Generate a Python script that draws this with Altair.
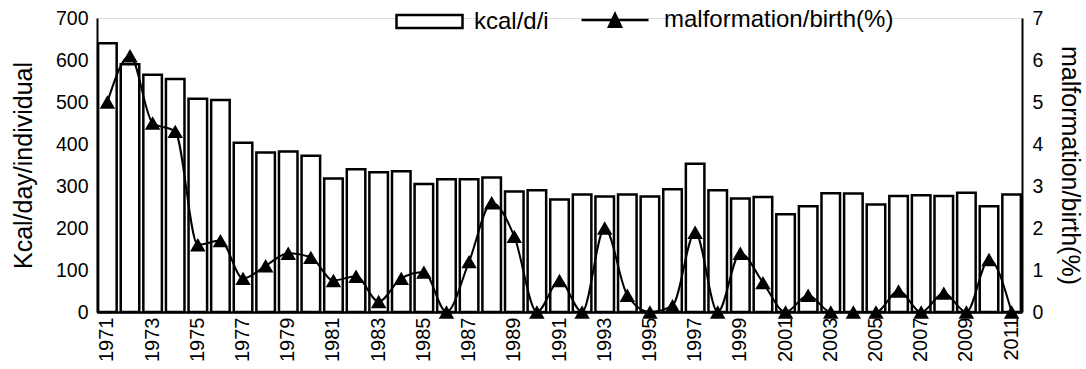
import altair as alt
import pandas as pd

years = list(range(1971, 2012))
kcal = [640, 590, 565, 555, 508, 505, 403, 380, 382, 372,
        318, 340, 333, 335, 305, 316, 316, 320, 287, 290,
        268, 280, 275, 280, 275, 292, 353, 290, 270, 274,
        233, 252, 283, 282, 256, 276, 278, 276, 284, 252, 280]
malf = [5.0, 6.1, 4.5, 4.3, 1.6, 1.7, 0.8, 1.1, 1.4, 1.3,
        0.75, 0.85, 0.25, 0.8, 0.95, 0.0, 1.2, 2.6, 1.8, 0.0,
        0.75, 0.0, 2.0, 0.4, 0.0, 0.15, 1.9, 0.0, 1.4, 0.7,
        0.0, 0.4, 0.0, 0.0, 0.0, 0.5, 0.0, 0.45, 0.0, 1.25, 0.0]
odd_years = [y for y in years if y % 2 == 1]

df = pd.DataFrame({"year": years, "kcal": kcal, "malf": malf})
df["s1"] = "kcal/d/i"
df["s2"] = "malformation/birth(%)"

FONT = "Liberation Sans"

x_enc = alt.X(
    "year:O",
    scale=alt.Scale(paddingInner=0.18, paddingOuter=0.05),
    axis=alt.Axis(
        values=odd_years, title=None, labelAngle=270, labelFontSize=20,
        labelFont=FONT, labelColor="black", ticks=False, labelPadding=5,
        domainColor="black", domainWidth=2.5, grid=False,
    ),
)

bars = alt.Chart(df).mark_bar(stroke="black", strokeWidth=2.5).encode(
    x=x_enc,
    y=alt.Y(
        "kcal:Q",
        scale=alt.Scale(domain=[0, 700], nice=False),
        axis=alt.Axis(
            title="Kcal/day/individual", titleFontSize=25, titleFont=FONT,
            titleFontWeight="normal", titleColor="black", titlePadding=19,
            values=[0, 100, 200, 300, 400, 500, 600, 700], labelFontSize=19.5,
            labelFont=FONT, labelColor="black", ticks=False, labelPadding=9,
            domainColor="black", domainWidth=2, grid=False, orient="left",
        ),
    ),
    fill=alt.Fill(
        "s1:N",
        scale=alt.Scale(domain=["kcal/d/i"], range=["white"]),
        legend=alt.Legend(
            title=None, orient="none", legendX=298, legendY=-31,
            symbolType="M-1,-0.2H1V0.2H-1Z", symbolSize=4356,
            symbolStrokeColor="black", symbolStrokeWidth=2.5,
            symbolFillColor="white", labelFontSize=24, labelFont=FONT,
            labelColor="black", labelOffset=10, padding=0, labelLimit=500,
        ),
    ),
)

y_right = alt.Y(
    "malf:Q",
    scale=alt.Scale(domain=[0, 7], nice=False),
    axis=alt.Axis(
        title="malformation/birth(%)", titleFontSize=25, titleFont=FONT,
        titleFontWeight="normal", titleColor="black", titlePadding=14,
        values=[0, 1, 2, 3, 4, 5, 6, 7], labelFontSize=19.5, labelFont=FONT,
        labelColor="black", ticks=False, labelPadding=10,
        domainColor="black", domainWidth=2, grid=False, orient="right",
    ),
)

line = alt.Chart(df).mark_line(interpolate="monotone", strokeWidth=2).encode(
    x=alt.X("year:O"),
    y=y_right,
    stroke=alt.Stroke(
        "s2:N",
        scale=alt.Scale(domain=["malformation/birth(%)"], range=["black"]),
        legend=alt.Legend(
            title=None, orient="none", legendX=483, legendY=-33,
            symbolType="M-1,0H1M-0.18,0.2L0,-0.18L0.18,0.2Z",
            symbolSize=4489, symbolStrokeColor="black",
            symbolStrokeWidth=2.5, symbolFillColor="black",
            labelFontSize=24, labelFont=FONT, labelColor="black",
            labelOffset=14, padding=0, labelLimit=500,
        ),
    ),
)

points = alt.Chart(df).mark_point(
    shape="triangle-up", filled=True, size=240, color="black", opacity=1
).encode(
    x=alt.X("year:O"),
    y=alt.Y("malf:Q", scale=alt.Scale(domain=[0, 7], nice=False)),
)

chart = alt.layer(bars, alt.layer(line, points)).resolve_scale(
    y="independent", fill="independent", stroke="independent"
).properties(
    width=925, height=294,
    autosize=alt.AutoSizeParams(type="none"),
    padding={"left": 97, "top": 18, "right": 64, "bottom": 57},
).configure_view(stroke=None).configure(background="white")

chart.save("out.html", embed_options={"renderer": "svg", "actions": False})
